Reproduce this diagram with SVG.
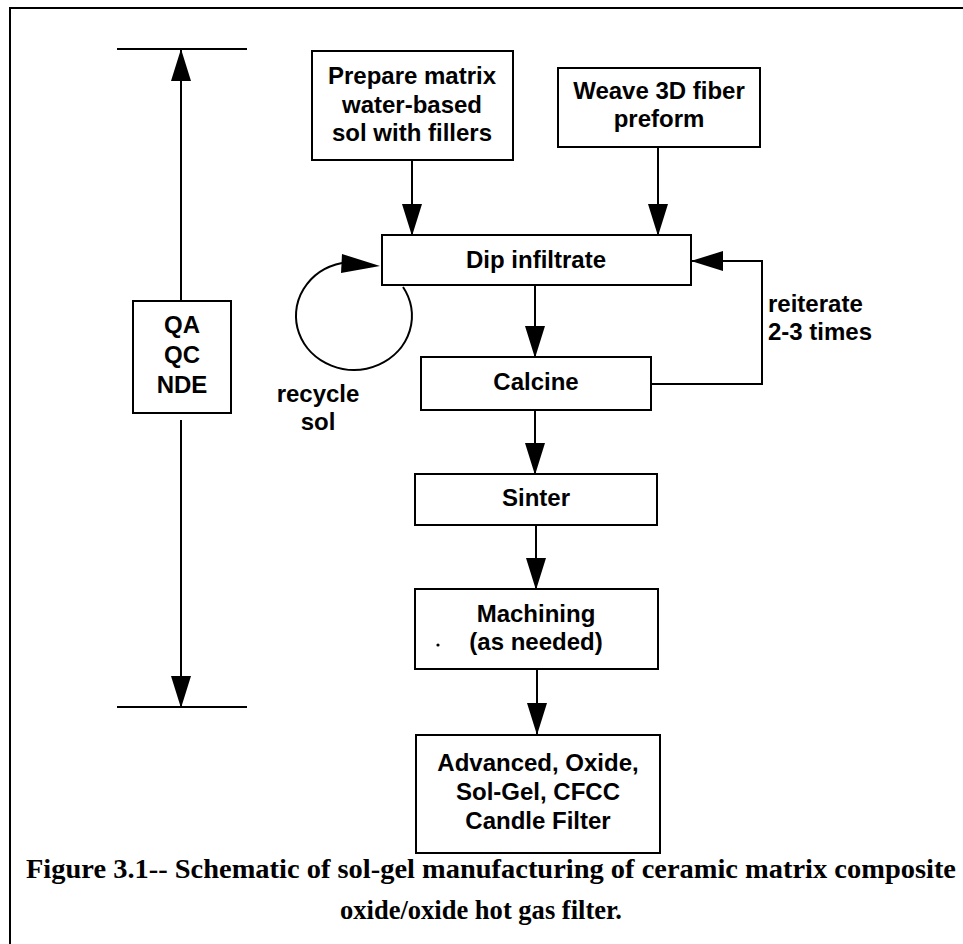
<svg xmlns="http://www.w3.org/2000/svg" width="963" height="944" viewBox="0 0 963 944">
<style>
.box{fill:#fff;stroke:#000;stroke-width:2}
.ln{fill:none;stroke:#000;stroke-width:2}
.t{font-family:"Liberation Sans",Arial,Helvetica,sans-serif;font-weight:bold;font-size:24px;fill:#000;text-anchor:middle}
.tl{font-family:"Liberation Sans",Arial,Helvetica,sans-serif;font-weight:bold;font-size:24px;fill:#000}
.cap{font-family:"Liberation Serif","Times New Roman",serif;font-weight:bold;font-size:28px;fill:#000}
</style>
<defs>
<marker id="ah" markerUnits="userSpaceOnUse" markerWidth="32" markerHeight="20" refX="31" refY="10" orient="auto">
<path d="M0,0 L32,10 L0,20 Z" fill="#000"/>
</marker>
</defs>
<rect width="963" height="944" fill="#fff"/>
<path class="ln" d="M10 944 V8 H963"/>

<g id="connectors">
<path class="ln" d="M117 49 H247"/>
<path class="ln" d="M181 300 V50" marker-end="url(#ah)"/>
<path class="ln" d="M181 420 V707" marker-end="url(#ah)"/>
<path class="ln" d="M117 707 H247"/>
<path class="ln" d="M412 160 V235" marker-end="url(#ah)"/>
<path class="ln" d="M658 147 V235" marker-end="url(#ah)"/>
<path class="ln" d="M535 285 V357" marker-end="url(#ah)"/>
<path class="ln" d="M535 410 V474" marker-end="url(#ah)"/>
<path class="ln" d="M536 525 V589" marker-end="url(#ah)"/>
<path class="ln" d="M537 669 V734" marker-end="url(#ah)"/>
<path class="ln" d="M651 384 H762 V261 H692" marker-end="url(#ah)"/>
<path class="ln" d="M403 287 A58 54 0 1 1 342 263"/>
<path d="M342 254 L380 266 L341 273 Z" fill="#000"/>
</g>

<g id="qa">
<rect class="box" x="133" y="301" width="98" height="112"/>
<text class="t" x="182" y="333">QA</text>
<text class="t" x="182" y="363">QC</text>
<text class="t" x="182" y="393">NDE</text>
</g>

<g id="prepare">
<rect class="box" x="312" y="51" width="201" height="109"/>
<text class="t" x="412" y="84">Prepare matrix</text>
<text class="t" x="412" y="113">water-based</text>
<text class="t" x="412" y="141">sol with fillers</text>
</g>

<g id="weave">
<rect class="box" x="558" y="68" width="202" height="79"/>
<text class="t" x="659" y="99">Weave 3D fiber</text>
<text class="t" x="659" y="127">preform</text>
</g>

<g id="dip">
<rect class="box" x="382" y="235" width="309" height="50"/>
<text class="t" x="536" y="268">Dip infiltrate</text>
</g>

<g id="recycle">
<text class="t" x="318" y="402">recycle</text>
<text class="t" x="318" y="430">sol</text>
</g>

<g id="reiterate">
<text class="tl" x="768" y="312">reiterate</text>
<text class="tl" x="768" y="340">2-3 times</text>
</g>

<g id="calcine">
<rect class="box" x="421" y="357" width="230" height="53"/>
<text class="t" x="536" y="390">Calcine</text>
</g>

<g id="sinter">
<rect class="box" x="415" y="474" width="242" height="51"/>
<text class="t" x="536" y="506">Sinter</text>
</g>

<g id="machining">
<rect class="box" x="415" y="589" width="243" height="80"/>
<text class="t" x="536" y="622">Machining</text>
<text class="t" x="536" y="650">(as needed)</text>
<circle cx="438" cy="645" r="1.6" fill="#000"/>
</g>

<g id="advanced">
<rect class="box" x="416" y="735" width="244" height="118"/>
<text class="t" x="538" y="771">Advanced, Oxide,</text>
<text class="t" x="538" y="800">Sol-Gel, CFCC</text>
<text class="t" x="538" y="829">Candle Filter</text>
</g>

<g id="caption">
<text class="cap" x="26" y="878" textLength="930" lengthAdjust="spacingAndGlyphs">Figure 3.1-- Schematic of sol-gel manufacturing of ceramic matrix composite</text>
<text class="cap" x="340" y="919" textLength="282" lengthAdjust="spacingAndGlyphs">oxide/oxide hot gas filter.</text>
</g>
</svg>
